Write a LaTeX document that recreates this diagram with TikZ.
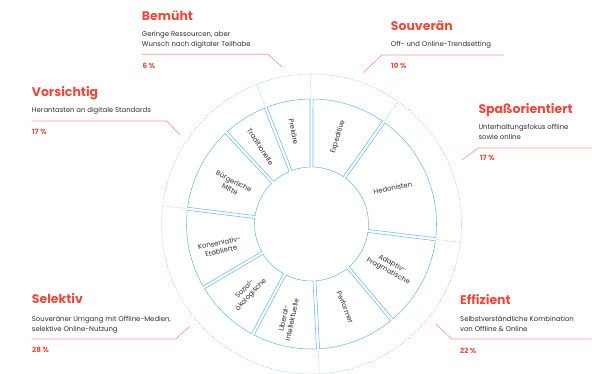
\documentclass[tikz,border=0pt]{standalone}
\usepackage{fontspec}
\setmainfont{Poppins}
\definecolor{milieuBlue}{RGB}{112,184,230}
\definecolor{groupRed}{RGB}{234,74,60}
\definecolor{leaderRed}{RGB}{244,150,142}
\definecolor{textGrey}{RGB}{45,45,45}
\def\rIn{57pt}
\def\rOut{125pt}
\def\rRing{150pt}
\def\gapIn{1.5}
\def\gapOut{0.7}
\newcommand{\milieu}[2]{
	\draw[milieuSeg] ({#1+\gapOut}:\rOut) arc[start angle={#1+\gapOut}, end angle={#2-\gapOut}, radius=\rOut] -- ({#2-\gapIn}:\rIn) arc[start angle={#2-\gapIn}, end angle={#1+\gapIn}, radius=\rIn] -- cycle;
}
\tikzset{
	milieuSeg/.style={draw=milieuBlue, line width=0.55pt},
	ringDots/.style={draw=milieuBlue!85, line width=0.6pt, dash pattern=on 0.7pt off 1.3pt},
	milieuText/.style={font=\fontsize{6.9}{8.4}\selectfont, text=textGrey, align=center, inner sep=0pt},
	groupTitle/.style={font=\fontsize{12.5}{14}\selectfont\bfseries, text=groupRed, anchor=base west, inner sep=0pt},
	groupText/.style={font=\fontsize{6.9}{10}\selectfont, text=textGrey, align=left, anchor=north west, inner sep=0pt},
	groupShare/.style={font=\fontsize{7.2}{8}\selectfont\bfseries, text=groupRed, anchor=west, inner sep=0pt},
	leader/.style={draw=leaderRed, line width=0.6pt}
}

\begin{document}
\begin{tikzpicture}[x=1pt, y=-1pt]

	\useasboundingbox (0,0) rectangle (592,374);

	%wheel of milieus
	\begin{scope}[shift={(311.5,224)}]
		%outer ring with the six groups
		\draw[ringDots] (0,0) circle[radius=\rRing];
		\foreach \a in {90.3, 54.7, -7, -87, 173, 111.5}
			\draw[ringDots] (\a:\rOut) -- (\a:\rRing);
			; %end for \a
		%inner segments
		\foreach \a/\b/\m/\r/\rot/\id/\txt in {
			90/111.5/101/94/-79/prek/Prekäre,
			111.5/133/123.5/92.6/-57/trad/Traditionelle,
			133/173/154/88.5/-27/buerg/Bürgerliche\\Mitte,
			173/210.5/194/94/12/kons/Konservativ-\\Etablierte,
			210.5/242/227/93/47/sozi/Sozial-\\ökologische,
			242/273/256/98/78/libe/Liberal-\\Intellektuelle,
			273/310/292/90/-68/perf/Performer,
			310/353/331/90/-29/adap/Adaptiv-\\Pragmatische,
			353/414.7/24/89/12/hedo/Hedonisten,
			54.7/90/73/91/73/expe/Expeditive}
		{
			\milieu{\a}{\b}
			\node[milieuText, rotate=\rot] (m-\id) at (\m:\r pt) {\txt};
		} %end for \a
	\end{scope}

	%group labels
	%bemueht
	\node[groupTitle] (bemueht) at (141.7,20.7) {Bemüht};
	\node[groupText] (bemueht-text) at (141.7,30.8) {Geringe Ressourcen, aber\\Wunsch nach digitaler Teilhabe};
	\coordinate (bemueht-l) at (141.7,54.3);
	\coordinate (bemueht-k) at (268,54.3);
	\coordinate (bemueht-p) at (281.7,66.7);
	\draw[leader] (bemueht-l) -- (bemueht-k) -- (bemueht-p);
	\node[groupShare] (bemueht-share) at (142.5,66) {6 \%};
	%souveraen
	\node[groupTitle] (souv) at (390.7,31) {Souverän};
	\node[groupText] (souv-text) at (390.7,41) {Off- und Online-Trendsetting};
	\coordinate (souv-l) at (504,55);
	\coordinate (souv-k) at (381.7,55);
	\coordinate (souv-p) at (363.3,72.7);
	\draw[leader] (souv-l) -- (souv-k) -- (souv-p);
	\node[groupShare] (souv-share) at (391,66) {10 \%};
	%vorsichtig
	\node[groupTitle] (vors) at (31.7,96.5) {Vorsichtig};
	\node[groupText] (vors-text) at (31.7,107) {Herantasten an digitale Standards};
	\coordinate (vors-l) at (31.7,121);
	\coordinate (vors-k) at (166.7,121);
	\coordinate (vors-p) at (180,135);
	\draw[leader] (vors-l) -- (vors-k) -- (vors-p);
	\node[groupShare] (vors-share) at (32,132) {17 \%};
	%spassorientiert
	\node[groupTitle] (spass) at (478.3,113.5) {Spaßorientiert};
	\node[groupText] (spass-text) at (478.3,124) {Unterhaltungsfokus offline\\sowie online};
	\coordinate (spass-l) at (592,148);
	\coordinate (spass-k) at (478,148);
	\coordinate (spass-p) at (462,160);
	\draw[leader] (spass-l) -- (spass-k) -- (spass-p);
	\node[groupShare] (spass-share) at (480,158) {17 \%};
	%selektiv
	\node[groupTitle] (sele) at (31.7,304) {Selektiv};
	\node[groupText] (sele-text) at (31.7,316.5) {Souveräner Umgang mit Offline-Medien,\\selektive Online-Nutzung};
	\coordinate (sele-l) at (31.7,339);
	\coordinate (sele-k) at (175.7,339);
	\coordinate (sele-p) at (189.3,326.7);
	\draw[leader] (sele-l) -- (sele-k) -- (sele-p);
	\node[groupShare] (sele-share) at (32,350) {28 \%};
	%effizient
	\node[groupTitle] (effi) at (460,304.3) {Effizient};
	\node[groupText] (effi-text) at (460,316) {Selbstverständliche Kombination\\von Offline \& Online};
	\coordinate (effi-l) at (591.7,339);
	\coordinate (effi-k) at (451.7,339);
	\coordinate (effi-p) at (436,324);
	\draw[leader] (effi-l) -- (effi-k) -- (effi-p);
	\node[groupShare] (effi-share) at (460,350.7) {22 \%};

\end{tikzpicture}
\end{document}
